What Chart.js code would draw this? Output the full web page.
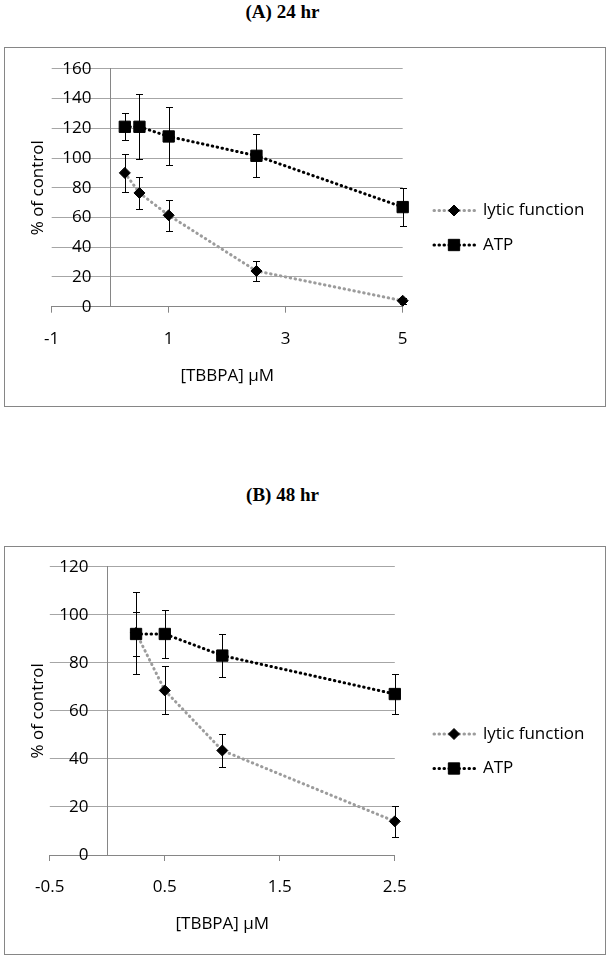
<!DOCTYPE html>
<html>
<head>
<meta charset="utf-8">
<script src="https://cdn.jsdelivr.net/npm/chart.js@4.4.0/dist/chart.umd.min.js"></script>
<style>
  body { margin: 0; background: #fff; width: 608px; height: 960px; position: relative; overflow: hidden; }
  .title { position: absolute; left: 0; width: 565px; text-align: center; font: bold 19px "Liberation Serif", "Times New Roman", serif; line-height: 24px; color: #000; }
  .box { position: absolute; left: 4px; width: 600px; border: 1px solid #868686; }
  canvas { display: block; }
</style>
</head>
<body>
<div class="title" style="top:0px">(A) 24 hr</div>
<div class="box" style="top:47px;height:358px"><canvas id="chartA" width="600" height="358"></canvas></div>
<div class="title" style="top:483px">(B) 48 hr</div>
<div class="box" style="top:546px;height:407px"><canvas id="chartB" width="600" height="407"></canvas></div>

<script>
// data
const seriesNames = ['lytic function', 'ATP'];

const doseA = [0.25, 0.5, 1, 2.5, 5];
const lyticA = [90, 76.5, 61.5, 24, 4];
const lyticErrA = [13, 11, 10.5, 6.5, 2];
const atpA = [121, 121, 114.5, 101.5, 67];
const atpErrA = [9, 22, 19.5, 14.5, 12.5];
const xTicksA = [-1, 1, 3, 5];
const yTicksA = [0, 20, 40, 60, 80, 100, 120, 140, 160];

const doseB = [0.25, 0.5, 1, 2.5];
const lyticB = [92.5, 68.5, 43.5, 14];
const lyticErrB = [17, 10, 7, 6.3];
const atpB = [92, 92, 83, 67];
const atpErrB = [9.2, 10, 9, 8.4];
const xTicksB = [-0.5, 0.5, 1.5, 2.5];
const yTicksB = [0, 20, 40, 60, 80, 100, 120];

Chart.defaults.font.family = '"Open Sans", sans-serif';
Chart.defaults.font.size = 17;
Chart.defaults.color = '#000';

function pairs(xs, ys) {
  return xs.map((x, i) => ({ x: x, y: ys[i] }));
}

// vertical error bars with small caps
const errorBars = {
  id: 'errorBars',
  beforeDatasetsDraw(chart) {
    const ctx = chart.ctx, xs = chart.scales.x, ys = chart.scales.y;
    ctx.save();
    ctx.strokeStyle = '#000';
    ctx.lineWidth = 1;
    chart.data.datasets.forEach(ds => {
      ds.data.forEach((p, i) => {
        const e = ds.errors[i];
        const px = Math.round(xs.getPixelForValue(p.x)) + 0.5;
        const top = Math.round(ys.getPixelForValue(p.y + e)) + 0.5;
        const bot = Math.round(ys.getPixelForValue(p.y - e)) + 0.5;
        ctx.beginPath();
        ctx.moveTo(px, top); ctx.lineTo(px, bot);
        ctx.moveTo(px - 3.5, top); ctx.lineTo(px + 3.5, top);
        ctx.moveTo(px - 3.5, bot); ctx.lineTo(px + 3.5, bot);
        ctx.stroke();
      });
    });
    ctx.restore();
  }
};

// rotated y title and an excel style legend (line + marker)
const sideText = {
  id: 'sideText',
  afterDraw(chart, args, opts) {
    const ctx = chart.ctx, area = chart.chartArea;
    ctx.save();
    ctx.font = '17px "Open Sans", sans-serif';
    ctx.fillStyle = '#000';
    ctx.textBaseline = 'middle';

    ctx.save();
    ctx.translate(33, (area.top + area.bottom) / 2);
    ctx.rotate(-Math.PI / 2);
    ctx.textAlign = 'center';
    ctx.fillText(opts.yTitle, 0, 0);
    ctx.restore();

    const mid = chart.height / 2;
    chart.data.datasets.forEach((ds, i) => {
      const y = mid - 16.5 + i * 34.5;
      ctx.save();
      ctx.strokeStyle = ds.borderColor;
      ctx.lineWidth = ds.borderWidth;
      ctx.lineCap = 'round';
      ctx.setLineDash(ds.borderDash);
      ctx.beginPath();
      ctx.moveTo(429, y);
      ctx.lineTo(470, y);
      ctx.stroke();
      ctx.restore();

      ctx.fillStyle = '#000';
      ctx.strokeStyle = '#000';
      ctx.lineWidth = 1;
      ctx.setLineDash([]);
      Chart.helpers.drawPoint(ctx, { pointStyle: ds.pointStyle, radius: ds.pointRadius, borderWidth: 1, rotation: 0 }, 449, y);

      ctx.textAlign = 'left';
      ctx.fillText(ds.label, 478, y);
    });
    ctx.restore();
  }
};

function makeChart(id, dose, lytic, lyticErr, atp, atpErr, xTicks, yTicks, pad, axisH, labelPad) {
  const ctx = document.getElementById(id).getContext('2d');
  const yMin = yTicks[0], yMax = yTicks[yTicks.length - 1];
  const setYTicks = s => { s.ticks = yTicks.map(v => ({ value: v })); };
  return new Chart(ctx, {
    type: 'scatter',
    data: {
      datasets: [
        {
          label: seriesNames[0],
          data: pairs(dose, lytic),
          errors: lyticErr,
          showLine: true,
          clip: false,
          borderColor: '#9c9c9c',
          borderWidth: 3,
          borderDash: [0.5, 4.5],
          borderCapStyle: 'round',
          pointStyle: 'rectRot',
          pointRadius: 5.5,
          pointBackgroundColor: '#000',
          pointBorderColor: '#000',
          pointBorderWidth: 1,
          order: 1
        },
        {
          label: seriesNames[1],
          data: pairs(dose, atp),
          errors: atpErr,
          showLine: true,
          clip: false,
          borderColor: '#000',
          borderWidth: 3,
          borderDash: [0.5, 4.5],
          borderCapStyle: 'round',
          pointStyle: 'rect',
          pointRadius: 8,
          pointBackgroundColor: '#000',
          pointBorderColor: '#000',
          pointBorderWidth: 1,
          order: 0
        }
      ]
    },
    options: {
      responsive: false,
      animation: false,
      devicePixelRatio: 1,
      layout: { autoPadding: false, padding: pad },
      plugins: {
        legend: { display: false },
        tooltip: { enabled: false },
        sideText: { yTitle: '% of control' }
      },
      scales: {
        x: {
          type: 'linear',
          position: 'bottom',
          min: xTicks[0],
          max: xTicks[xTicks.length - 1],
          afterBuildTicks: s => { s.ticks = xTicks.map(v => ({ value: v })); },
          afterFit: s => { s.height = axisH; },
          grid: { display: true, drawOnChartArea: false, drawTicks: true, tickLength: 6, color: '#868686' },
          border: { display: true, color: '#868686', width: 1 },
          ticks: { padding: 16, autoSkip: false, maxRotation: 0, callback: v => String(v) },
          title: { display: true, text: '[TBBPA] µM', padding: { top: 0, bottom: 20 } }
        },
        // gridlines + the vertical axis line crossing at x = 0
        y: {
          type: 'linear',
          axis: 'y',
          position: { x: 0 },
          min: yMin,
          max: yMax,
          afterBuildTicks: setYTicks,
          grid: { color: '#a6a6a6', drawTicks: false },
          border: { display: true, color: '#868686', width: 1 },
          ticks: { display: false }
        },
        // tick labels, drawn inside the plot just left of the x = 0 axis
        yLabels: {
          type: 'linear',
          axis: 'y',
          position: 'left',
          min: yMin,
          max: yMax,
          afterBuildTicks: setYTicks,
          afterFit: s => { s.width = 0; },
          grid: { display: false, drawTicks: false },
          border: { display: false },
          ticks: { mirror: true, crossAlign: 'far', padding: labelPad, autoSkip: false, callback: v => String(v) }
        }
      }
    },
    plugins: [errorBars, sideText]
  });
}

makeChart('chartA', doseA, lyticA, lyticErrA, atpA, atpErrA, xTicksA, yTicksA,
  { left: 46.7, right: 202.3, top: 19.7, bottom: 0 }, 99.3, 10.6);
makeChart('chartB', doseB, lyticB, lyticErrB, atpB, atpErrB, xTicksB, yTicksB,
  { left: 44.8, right: 210.2, top: 19.3, bottom: 0 }, 99, 9.5);
</script>
</body>
</html>
